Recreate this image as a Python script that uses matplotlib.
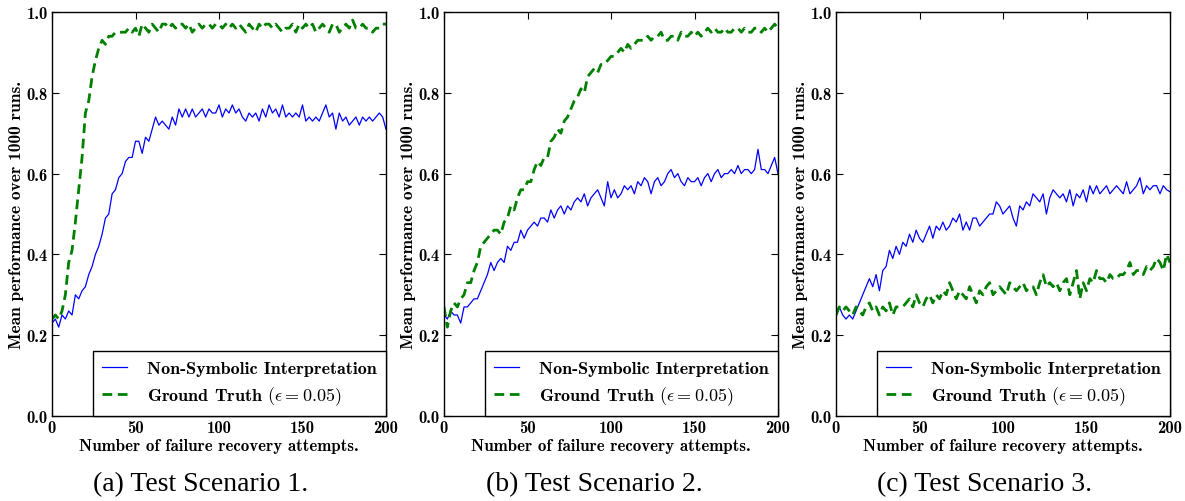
import matplotlib
matplotlib.use('Agg')
import matplotlib.pyplot as plt
import numpy as np

# attempts sampled every 2 steps
attempts = np.arange(0, 201, 2)

# Test scenario 1
s1_nonsym = [0.23, 0.24, 0.22, 0.25, 0.24, 0.26, 0.25, 0.30, 0.29, 0.31,
             0.32, 0.35, 0.37, 0.40, 0.42, 0.45, 0.49, 0.50, 0.55, 0.56,
             0.59, 0.60, 0.63, 0.64, 0.64, 0.68, 0.68, 0.65, 0.69, 0.68,
             0.71, 0.74, 0.72, 0.73, 0.72, 0.71, 0.74, 0.72, 0.76, 0.74,
             0.76, 0.74, 0.76, 0.74, 0.75, 0.76, 0.74, 0.76, 0.75, 0.75,
             0.77, 0.74, 0.76, 0.75, 0.77, 0.75, 0.76, 0.74, 0.73, 0.75,
             0.74, 0.75, 0.73, 0.76, 0.74, 0.77, 0.75, 0.76, 0.74, 0.77,
             0.74, 0.75, 0.74, 0.75, 0.74, 0.77, 0.73, 0.74, 0.73, 0.74,
             0.73, 0.75, 0.77, 0.74, 0.75, 0.71, 0.75, 0.73, 0.74, 0.72,
             0.73, 0.74, 0.72, 0.74, 0.73, 0.74, 0.73, 0.74, 0.75, 0.74,
             0.71]
s1_truth = [0.24, 0.25, 0.24, 0.26, 0.30, 0.38, 0.41, 0.48, 0.56, 0.64,
            0.75, 0.78, 0.84, 0.88, 0.91, 0.93, 0.92, 0.94, 0.94, 0.95,
            0.95, 0.95, 0.95, 0.96, 0.95, 0.96, 0.94, 0.97, 0.96, 0.95,
            0.97, 0.96, 0.95, 0.97, 0.97, 0.96, 0.97, 0.96, 0.97, 0.97,
            0.96, 0.97, 0.95, 0.96, 0.97, 0.96, 0.97, 0.97, 0.96, 0.97,
            0.97, 0.96, 0.97, 0.96, 0.97, 0.96, 0.97, 0.96, 0.95, 0.97,
            0.96, 0.95, 0.97, 0.96, 0.97, 0.97, 0.96, 0.97, 0.96, 0.95,
            0.96, 0.96, 0.97, 0.95, 0.97, 0.96, 0.97, 0.96, 0.97, 0.95,
            0.96, 0.97, 0.96, 0.95, 0.97, 0.97, 0.95, 0.96, 0.97, 0.96,
            0.98, 0.96, 0.96, 0.97, 0.96, 0.96, 0.95, 0.96, 0.96, 0.97,
            0.97]

# Test scenario 2
s2_nonsym = [0.25, 0.24, 0.26, 0.25, 0.25, 0.23, 0.27, 0.27, 0.28, 0.29,
             0.29, 0.31, 0.33, 0.35, 0.38, 0.36, 0.38, 0.39, 0.38, 0.42,
             0.41, 0.43, 0.43, 0.46, 0.44, 0.46, 0.47, 0.48, 0.47, 0.49,
             0.49, 0.48, 0.51, 0.49, 0.51, 0.52, 0.50, 0.52, 0.51, 0.53,
             0.54, 0.53, 0.55, 0.52, 0.54, 0.55, 0.56, 0.54, 0.52, 0.58,
             0.54, 0.56, 0.54, 0.55, 0.57, 0.56, 0.57, 0.55, 0.58, 0.57,
             0.59, 0.58, 0.55, 0.58, 0.59, 0.57, 0.58, 0.60, 0.61, 0.59,
             0.60, 0.58, 0.57, 0.59, 0.58, 0.58, 0.59, 0.57, 0.59, 0.60,
             0.58, 0.60, 0.61, 0.59, 0.60, 0.60, 0.61, 0.60, 0.62, 0.60,
             0.61, 0.61, 0.60, 0.61, 0.66, 0.61, 0.61, 0.60, 0.62, 0.64,
             0.60]
s2_truth = [0.27, 0.22, 0.26, 0.28, 0.27, 0.29, 0.30, 0.33, 0.33, 0.36,
            0.38, 0.42, 0.43, 0.44, 0.45, 0.46, 0.46, 0.45, 0.48, 0.49,
            0.52, 0.51, 0.54, 0.56, 0.56, 0.58, 0.58, 0.61, 0.63, 0.62,
            0.64, 0.64, 0.68, 0.69, 0.71, 0.70, 0.73, 0.74, 0.76, 0.78,
            0.79, 0.81, 0.80, 0.84, 0.85, 0.86, 0.85, 0.87, 0.87, 0.88,
            0.89, 0.89, 0.90, 0.91, 0.90, 0.92, 0.91, 0.92, 0.93, 0.93,
            0.93, 0.94, 0.93, 0.94, 0.94, 0.95, 0.93, 0.93, 0.94, 0.94,
            0.93, 0.95, 0.94, 0.94, 0.95, 0.94, 0.95, 0.94, 0.95, 0.96,
            0.95, 0.96, 0.95, 0.95, 0.96, 0.95, 0.95, 0.96, 0.96, 0.95,
            0.96, 0.95, 0.95, 0.96, 0.96, 0.95, 0.96, 0.95, 0.96, 0.97,
            0.96]

# Test scenario 3
s3_nonsym = [0.26, 0.27, 0.25, 0.24, 0.25, 0.24, 0.26, 0.28, 0.30, 0.32,
             0.34, 0.32, 0.35, 0.31, 0.36, 0.37, 0.41, 0.39, 0.42, 0.40,
             0.43, 0.42, 0.45, 0.43, 0.46, 0.44, 0.43, 0.45, 0.47, 0.44,
             0.47, 0.46, 0.48, 0.46, 0.47, 0.49, 0.48, 0.50, 0.46, 0.48,
             0.46, 0.49, 0.49, 0.47, 0.48, 0.49, 0.50, 0.50, 0.53, 0.52,
             0.50, 0.51, 0.52, 0.49, 0.47, 0.52, 0.51, 0.53, 0.52, 0.55,
             0.54, 0.53, 0.55, 0.50, 0.54, 0.56, 0.55, 0.54, 0.55, 0.53,
             0.56, 0.52, 0.55, 0.54, 0.56, 0.53, 0.57, 0.55, 0.57, 0.55,
             0.56, 0.57, 0.55, 0.56, 0.57, 0.56, 0.55, 0.58, 0.55, 0.56,
             0.57, 0.59, 0.55, 0.57, 0.56, 0.57, 0.57, 0.55, 0.57, 0.56,
             0.555]
s3_truth = [0.25, 0.27, 0.26, 0.27, 0.26, 0.25, 0.27, 0.26, 0.25, 0.27,
            0.28, 0.26, 0.27, 0.25, 0.27, 0.26, 0.28, 0.25, 0.27, 0.27,
            0.27, 0.28, 0.29, 0.27, 0.30, 0.28, 0.27, 0.29, 0.30, 0.28,
            0.30, 0.29, 0.31, 0.30, 0.33, 0.31, 0.29, 0.31, 0.30, 0.29,
            0.32, 0.30, 0.28, 0.31, 0.30, 0.32, 0.33, 0.30, 0.31, 0.32,
            0.31, 0.30, 0.33, 0.32, 0.31, 0.32, 0.33, 0.31, 0.32, 0.32,
            0.30, 0.33, 0.35, 0.32, 0.33, 0.32, 0.33, 0.31, 0.33, 0.34,
            0.30, 0.33, 0.36, 0.29, 0.33, 0.31, 0.34, 0.33, 0.36, 0.34,
            0.34, 0.33, 0.35, 0.34, 0.34, 0.35, 0.35, 0.36, 0.38, 0.35,
            0.36, 0.36, 0.35, 0.37, 0.36, 0.37, 0.39, 0.38, 0.36, 0.40,
            0.38]

captions = ['(a) Test Scenario 1.', '(b) Test Scenario 2.', '(c) Test Scenario 3.']
series = [(s1_nonsym, s1_truth), (s2_nonsym, s2_truth), (s3_nonsym, s3_truth)]

plt.rcParams['font.family'] = ['cmb10', 'DejaVu Serif']
plt.rcParams['mathtext.fontset'] = 'cm'
plt.rcParams['axes.unicode_minus'] = False

fig = plt.figure(figsize=(11.85, 5.02), dpi=100)

lefts = [52, 444, 836]
cap_x = [201, 594, 985]
for i in range(3):
    ax = fig.add_axes([lefts[i] / 1185, 1 - 417 / 502, 334 / 1185, 404 / 502])
    nonsym, truth = series[i]
    ax.plot(attempts, nonsym, color='#0000ff', lw=0.9,
            label='Non-Symbolic Interpretation')
    ax.plot(attempts, truth, color='#008000', lw=2.0, ls='--', dashes=(3.5, 2),
            label=r'Ground Truth $(\epsilon=0.05)$')
    ax.set_xlim(0, 200)
    ax.set_ylim(0, 1.0)
    ax.set_xticks([0, 50, 100, 150, 200])
    ax.set_yticks([0.0, 0.2, 0.4, 0.6, 0.8, 1.0])
    ax.set_yticklabels(['0.0', '0.2', '0.4', '0.6', '0.8', '1.0'])
    ax.tick_params(direction='in', top=True, right=True, length=5,
                   labelsize=12, pad=3)
    ax.set_xlabel('Number of failure recovery attempts.', fontsize=12.2, labelpad=2)
    ax.set_ylabel('Mean performance over 1000 runs.', fontsize=12.5, labelpad=2)
    for sp in ax.spines.values():
        sp.set_linewidth(1.0)
    leg = ax.legend(loc='lower right', borderaxespad=0, fancybox=False,
                    fontsize=13, handlelength=1.4, borderpad=0.5,
                    labelspacing=0.45, handletextpad=1.1, framealpha=1)
    leg.get_frame().set_edgecolor('black')
    leg.get_frame().set_linewidth(1.0)
    fig.text(cap_x[i] / 1185, 1 - 485 / 502, captions[i], ha='center',
             va='center', fontsize=20, family='Liberation Serif')

fig.savefig('out.png', dpi=100)
